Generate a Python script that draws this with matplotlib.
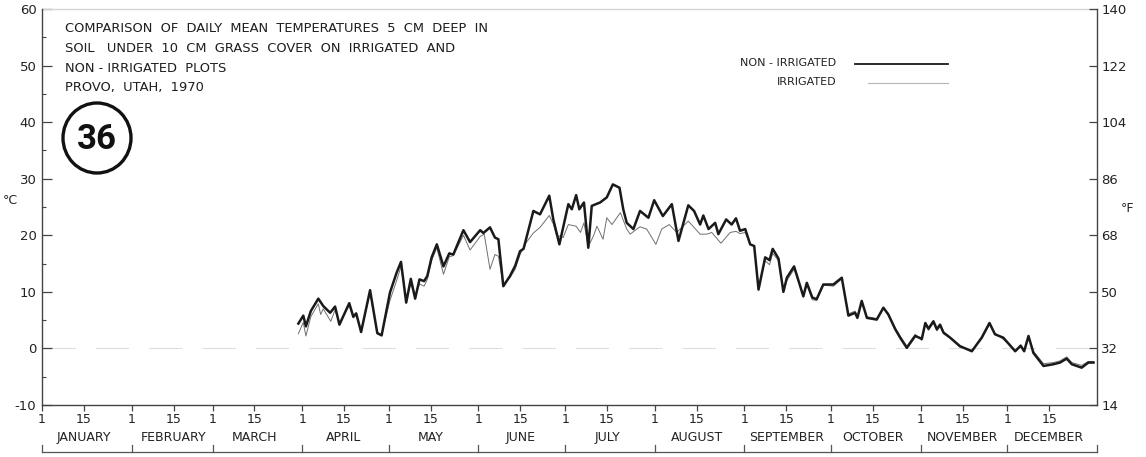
import matplotlib
matplotlib.use("Agg")
import matplotlib.pyplot as plt
import matplotlib.patches as mpatches
import matplotlib.transforms as mtrans
import numpy as np

# ---------------- data ----------------
month_names = ["JANUARY", "FEBRUARY", "MARCH", "APRIL", "MAY", "JUNE", "JULY",
               "AUGUST", "SEPTEMBER", "OCTOBER", "NOVEMBER", "DECEMBER"]
month_starts = [0, 31, 59, 90, 120, 151, 181, 212, 243, 273, 304, 334, 365]

c_ticks = [-10, 0, 10, 20, 30, 40, 50, 60]
f_ticks = [14, 32, 50, 68, 86, 104, 122, 140]

non_irr_day = [88.7, 90.4, 91.3, 93.0, 95.6, 97.3, 99.7, 101.4, 102.9, 106.3, 107.7, 108.7,
               110.4, 113.5, 116.0, 117.5, 120.4, 122.7, 124.2, 126.0, 127.6, 129.1, 130.6,
               132.2, 133.3, 134.8, 136.6, 138.9, 140.9, 142.3, 145.8, 148.1, 151.6, 152.7,
               155.0, 156.7, 157.9, 159.6, 161.9, 163.7, 165.4, 166.6, 170.0, 172.3, 175.5,
               176.9, 179.0, 182.1, 183.3, 184.8, 185.9, 187.5, 189.0, 190.2, 193.1, 195.4,
               197.5, 199.8, 201.1, 202.3, 204.6, 206.9, 209.8, 211.8, 214.8, 217.9, 220.2,
               223.6, 225.6, 227.7, 228.8, 230.6, 232.9, 234.0, 236.7, 238.6, 240.1, 241.5,
               243.3, 245.0, 246.4, 247.9, 250.2, 251.7, 252.8, 254.8, 256.5, 257.7, 260.2,
               263.4, 264.6, 266.5, 268.0, 270.3, 273.8, 276.7, 279.0, 281.3, 282.1, 283.6,
               285.4, 288.8, 291.1, 292.8, 295.2, 296.9, 299.2, 302.1, 304.4, 305.6, 306.7,
               308.4, 309.6, 310.7, 311.9, 314.2, 317.6, 321.7, 325.1, 327.8, 329.7, 332.6,
               336.7, 338.6, 339.8, 341.3, 343.0, 346.5, 349.9, 352.2, 354.5, 356.3, 359.7,
               362.0, 363.8]
non_irr_temp = [4.4, 5.8, 3.9, 6.6, 8.8, 7.5, 6.3, 7.4, 4.2, 8.0, 5.6, 6.2,
                2.9, 10.3, 2.7, 2.3, 9.9, 13.4, 15.3, 8.1, 12.3, 8.8, 12.2,
                11.9, 12.8, 16.1, 18.4, 14.5, 16.8, 16.6, 20.9, 18.8, 20.9, 20.4,
                21.4, 19.6, 19.3, 11.0, 12.8, 14.6, 17.2, 17.6, 24.3, 23.7, 27.0,
                22.8, 18.4, 25.5, 24.6, 27.1, 24.6, 25.8, 17.8, 25.2, 25.8, 26.7,
                29.0, 28.4, 24.6, 22.2, 21.1, 24.3, 23.1, 26.2, 23.4, 25.5, 19.0,
                25.3, 24.3, 21.9, 23.5, 21.1, 22.2, 20.2, 22.8, 21.9, 23.0, 20.8,
                21.1, 18.4, 18.1, 10.4, 16.1, 15.6, 17.6, 15.9, 10.0, 12.5, 14.5,
                9.2, 11.6, 9.0, 8.7, 11.3, 11.3, 12.5, 5.8, 6.3, 5.4, 8.4,
                5.4, 5.1, 7.2, 6.0, 3.4, 1.9, 0.1, 2.2, 1.7, 4.5, 3.5,
                4.8, 3.4, 4.2, 2.8, 1.9, 0.4, -0.5, 1.9, 4.5, 2.5, 1.9,
                -0.5, 0.5, -0.5, 2.2, -0.8, -3.1, -2.8, -2.5, -1.8, -2.8, -3.4,
                -2.5, -2.5]

irr_day = [88.7, 90.4, 91.3, 93.0, 95.6, 96.4, 97.3, 99.9, 101.4, 102.9, 106.3, 107.7,
           108.7, 110.4, 113.5, 116.0, 117.5, 120.4, 122.7, 124.2, 126.0, 127.6, 129.1,
           130.6, 132.2, 133.3, 134.8, 136.6, 138.9, 140.9, 142.3, 145.8, 148.1, 151.6,
           153.0, 155.0, 156.7, 157.9, 159.6, 161.9, 163.7, 165.4, 167.5, 170.0, 172.3,
           175.5, 176.9, 178.0, 180.3, 182.1, 184.8, 186.3, 187.5, 189.0, 190.8, 192.0,
           194.1, 195.4, 197.2, 200.1, 202.3, 203.5, 205.8, 206.9, 209.2, 212.4, 214.4,
           217.0, 219.6, 223.6, 227.7, 230.0, 231.7, 234.9, 238.1, 240.1, 241.5, 243.3,
           245.0, 246.4, 247.9, 250.2, 251.7, 252.8, 254.8, 256.5, 257.7, 260.2, 263.4,
           264.6, 266.5, 268.0, 270.3, 273.8, 276.7, 279.0, 281.3, 282.1, 283.6, 285.4,
           288.8, 291.1, 292.8, 295.2, 296.9, 299.2, 302.1, 304.4, 305.6, 306.7, 308.4,
           309.6, 310.7, 311.9, 314.2, 317.6, 321.7, 325.1, 327.8, 329.7, 332.6, 336.7,
           338.6, 339.8, 341.3, 343.0, 346.5, 349.9, 352.2, 354.5, 356.3, 359.7, 362.0,
           363.8]
irr_temp = [2.6, 4.6, 2.2, 5.6, 7.9, 6.0, 7.0, 4.8, 6.8, 4.5, 7.6, 5.4,
            6.0, 3.0, 9.8, 2.8, 2.5, 8.5, 12.0, 14.5, 8.6, 11.5, 9.2,
            11.4, 11.0, 12.2, 15.5, 17.8, 13.1, 16.2, 16.4, 20.0, 17.4, 19.8,
            20.2, 14.0, 16.6, 16.3, 11.3, 12.5, 14.0, 16.6, 18.7, 20.4, 21.4,
            23.5, 22.0, 20.0, 19.6, 21.9, 21.6, 20.5, 22.2, 18.0, 19.9, 21.6,
            19.3, 23.1, 21.9, 24.0, 21.1, 20.2, 21.1, 21.5, 21.1, 18.4, 21.1,
            21.9, 20.5, 22.5, 20.2, 20.2, 20.5, 18.6, 20.5, 20.7, 20.3, 20.5,
            18.4, 18.1, 10.8, 15.5, 14.8, 16.8, 15.5, 10.3, 12.0, 14.0, 9.5,
            11.3, 8.6, 8.5, 11.2, 11.0, 12.3, 6.1, 6.6, 5.6, 8.0, 5.6,
            5.3, 7.0, 6.2, 3.6, 2.2, 0.4, 2.5, 1.4, 4.2, 3.2, 4.5,
            3.1, 3.9, 2.6, 1.8, 0.2, -0.3, 1.7, 4.2, 2.7, 1.6, -0.3,
            0.3, -0.2, 2.0, -0.5, -2.7, -2.5, -2.2, -1.5, -2.5, -3.0, -2.3,
            -2.3]

# ---------------- figure ----------------
W, H = 1146, 457
fig = plt.figure(figsize=(W / 100, H / 100), dpi=100)
ax_l, ax_r, ax_t, ax_b = 42, 1097, 9, 405
ax = fig.add_axes([ax_l / W, 1 - ax_b / H, (ax_r - ax_l) / W, (ax_b - ax_t) / H])

ink = "#1a1a1a"
axcol = "#444444"
fam = ["DejaVu Sans"]

ax.set_xlim(0, 365)
ax.set_ylim(-10, 60)

# faint zero reference line
ax.axhline(0, color="#dedede", lw=0.8, dashes=(30, 18), zorder=0)

ax.plot(irr_day, irr_temp, color="#707070", lw=0.7, zorder=2)
ax.plot(non_irr_day, non_irr_temp, color=ink, lw=1.8, zorder=3)

for s in ["top", "right"]:
    ax.spines[s].set_visible(False)
ax.spines["left"].set_color(axcol)
ax.spines["bottom"].set_color(axcol)
ax.spines["left"].set_linewidth(1.0)
ax.spines["bottom"].set_linewidth(1.0)
# faint top border
ax.plot([0, 365], [60, 60], color="#d5d5d5", lw=1.0, clip_on=False)

# left y axis
ax.set_yticks(c_ticks)
ax.set_yticklabels([str(v) for v in c_ticks])
ax.set_yticks(np.arange(-5, 60, 10), minor=True)
ax.tick_params(axis="y", which="major", direction="in", length=7, width=0.9,
               color=axcol, labelsize=9.5, pad=4, labelcolor="#222222")
ax.tick_params(axis="y", which="minor", direction="in", length=3, width=0.8, color=axcol)

# x axis ticks: month starts and 15ths
xt, xl = [], []
for m in range(12):
    xt += [month_starts[m], month_starts[m] + 14.5]
    xl += ["1", "15"]
ax.set_xticks(xt)
ax.set_xticklabels(xl)
ax.tick_params(axis="x", which="major", direction="out", length=4, width=0.9,
               color=axcol, labelsize=9, pad=2, labelcolor="#222222")

bt = mtrans.blended_transform_factory(ax.transData, ax.transAxes)
for m in range(12):
    ax.text(month_starts[m] + 14.5, -0.083, month_names[m], transform=bt,
            ha="center", va="center", fontsize=9, color="#222222", family=fam)

# bracket line below month names
yb = -(452 - ax_b) / (ax_b - ax_t)
ax.plot([0, 365], [yb, yb], transform=bt, color="#555555", lw=0.9, clip_on=False)
for ms in month_starts:
    ax.plot([ms, ms], [yb, yb + 0.017], transform=bt, color="#555555", lw=0.9, clip_on=False)

# right axis in Fahrenheit
ax2 = ax.twinx()
ax2.set_ylim(-10 * 9 / 5 + 32, 60 * 9 / 5 + 32)
ax2.set_yticks(f_ticks)
ax2.set_yticklabels([str(v) for v in f_ticks])
for s in ["top", "left", "bottom"]:
    ax2.spines[s].set_visible(False)
ax2.spines["right"].set_color(axcol)
ax2.spines["right"].set_linewidth(1.0)
ax2.tick_params(axis="y", direction="in", length=6, width=0.9, color=axcol,
                labelsize=9.5, pad=3, labelcolor="#222222")

# unit labels
fig.text(10 / W, 1 - 201 / H, "°C", fontsize=9, color="#222222", ha="center", va="center")
fig.text(1128 / W, 1 - 208 / H, "°F", fontsize=9, color="#222222", ha="center", va="center")

# title block
title_lines = ["COMPARISON  OF  DAILY  MEAN  TEMPERATURES  5  CM  DEEP  IN",
               "SOIL   UNDER  10  CM  GRASS  COVER  ON  IRRIGATED  AND",
               "NON - IRRIGATED  PLOTS",
               "PROVO,  UTAH,  1970"]
for i, t in enumerate(title_lines):
    fig.text(65 / W, 1 - (28 + 20 * i) / H, t, fontsize=9.4, color="#1e1e1e",
             ha="left", va="center", family=fam)

# figure number in circle
circ = mpatches.Ellipse((97 / W, 1 - 138 / H), 68 / W, 70 / H, transform=fig.transFigure,
                        fill=False, lw=2.4, edgecolor="#111111")
fig.add_artist(circ)
fig.text(97 / W, 1 - 139 / H, "36", fontsize=25, fontweight="bold", color="#111111",
         ha="center", va="center", family=["Roboto", "DejaVu Sans"])

# legend
fig.text(836 / W, 1 - 63 / H, "NON - IRRIGATED", fontsize=8, color="#222222",
         ha="right", va="center", family=fam)
fig.text(836 / W, 1 - 82 / H, "IRRIGATED", fontsize=8, color="#222222",
         ha="right", va="center", family=fam)
fig.add_artist(plt.Line2D([855 / W, 948 / W], [1 - 64 / H, 1 - 64 / H],
                          transform=fig.transFigure, color=ink, lw=1.3))
fig.add_artist(plt.Line2D([868 / W, 948 / W], [1 - 83 / H, 1 - 83 / H],
                          transform=fig.transFigure, color="#b5b5b5", lw=0.8))

fig.savefig("out.png", dpi=100, facecolor="white")
